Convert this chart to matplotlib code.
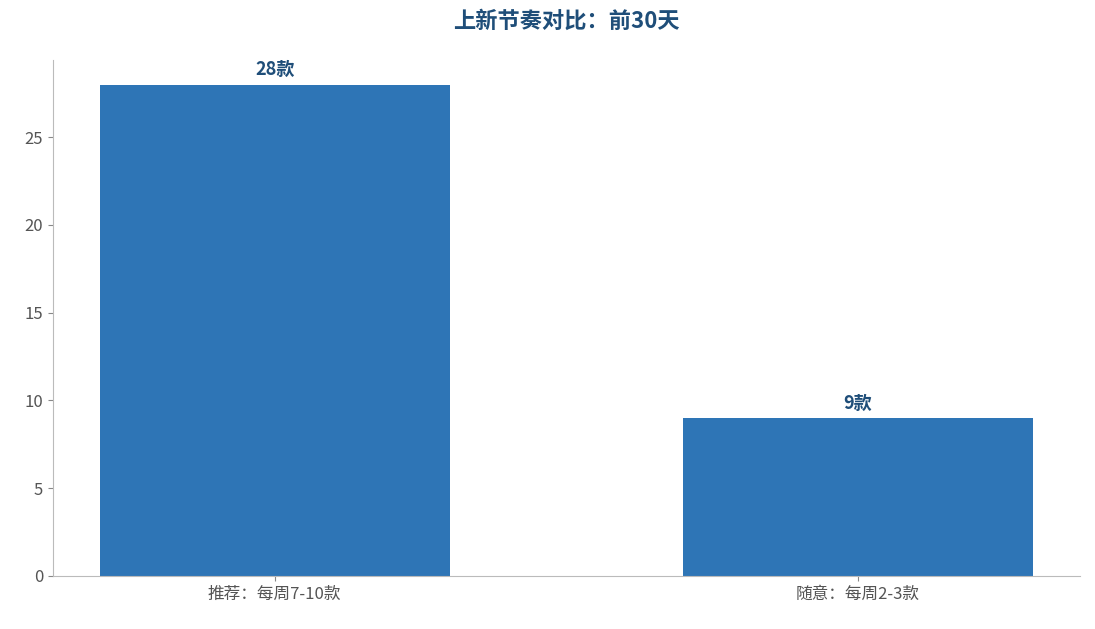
import matplotlib.pyplot as plt

plt.rcParams['font.family'] = ['Noto Sans CJK SC', 'DejaVu Sans']

categories = ['推荐：每周7-10款', '随意：每周2-3款']
counts = [28, 9]
bar_labels = ['28款', '9款']

fig = plt.figure(figsize=(10.95, 6.29), dpi=100)
ax = fig.add_axes([0.0484, 0.0843, 0.9376, 0.8203])

bars = ax.bar(range(len(categories)), counts, width=0.6, color='#2E75B6')
for b, lab in zip(bars, bar_labels):
    ax.text(b.get_x() + b.get_width() / 2, b.get_height() + 0.3, lab,
            ha='center', va='bottom', fontsize=13, fontweight='bold', color='#1F4E79')

ax.set_xticks(range(len(categories)))
ax.set_xticklabels(categories)
ax.tick_params(axis='both', labelsize=12, colors='#555555')
ax.tick_params(axis='both', color='#888888')
for s in ['top', 'right']:
    ax.spines[s].set_visible(False)
for s in ['left', 'bottom']:
    ax.spines[s].set_color('#BBBBBB')

fig.suptitle('上新节奏对比：前30天', x=0.517, y=0.985, fontsize=16,
             fontweight='bold', color='#1F4E79')

fig.savefig('out.png', dpi=100)
